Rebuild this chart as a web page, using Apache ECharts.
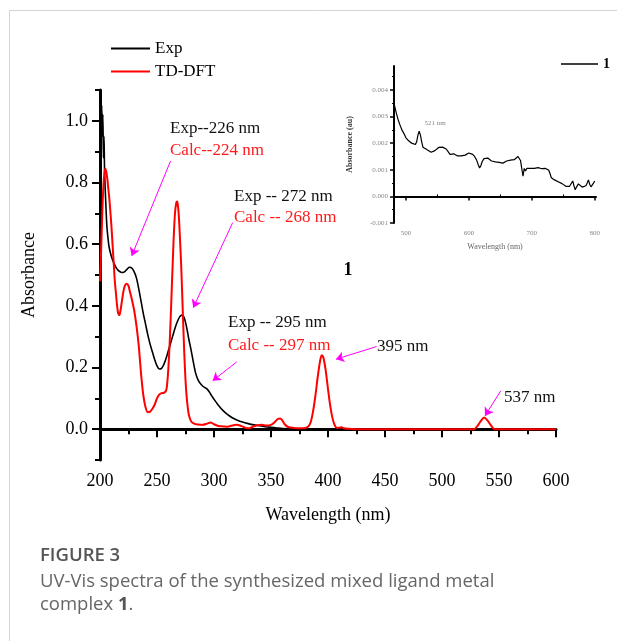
<!DOCTYPE html>
<html>
<head>
<meta charset="utf-8">
<script src="https://cdn.jsdelivr.net/npm/echarts@6/dist/echarts.min.js"></script>
<style>
  html, body { margin: 0; padding: 0; background: #fff; }
  #chart { width: 617px; height: 641px; }
</style>
</head>
<body>
<div id="chart"></div>
<script>
// 实验谱 (black)
const expWl = [200, 200.5, 201, 201.5, 202, 202.5, 203, 203.5, 204, 205, 206, 207, 208, 210, 212, 214, 216, 218, 220, 222, 224, 226, 228, 230, 232, 234, 236, 238, 240, 242, 244, 246, 248, 250, 252, 254, 256, 258, 260, 262, 264, 266, 268, 270, 272, 274, 276, 278, 280, 282, 284, 286, 288, 290, 292, 294, 296, 298, 300, 304, 308, 312, 316, 320, 325, 330, 335, 340, 345, 350, 355, 360, 370, 380, 400, 420, 440, 452, 490, 528, 546];
const expAbs = [0.90, 1.03, 0.92, 1.05, 0.95, 1.02, 0.88, 0.95, 0.84, 0.74, 0.66, 0.62, 0.59, 0.56, 0.54, 0.525, 0.515, 0.51, 0.508, 0.512, 0.52, 0.525, 0.522, 0.51, 0.49, 0.455, 0.415, 0.375, 0.34, 0.305, 0.275, 0.25, 0.225, 0.205, 0.195, 0.197, 0.21, 0.23, 0.255, 0.28, 0.305, 0.33, 0.35, 0.365, 0.37, 0.36, 0.33, 0.29, 0.255, 0.215, 0.18, 0.16, 0.148, 0.14, 0.135, 0.13, 0.12, 0.108, 0.097, 0.077, 0.06, 0.047, 0.037, 0.03, 0.023, 0.018, 0.014, 0.011, 0.008, 0.006, 0.004, 0.002, 0.001, 0, 0, 0, 0, 0, null, 0, 0];

// TD-DFT 计算谱 (red)
const calcWl = [200, 201, 202, 203, 204, 204.7, 205.5, 206.5, 207, 208, 209, 210, 211, 212, 213, 214, 215, 216, 217, 218, 219, 220, 221, 222, 223.5, 225, 226, 228, 230, 232, 234, 236, 238, 240, 242, 244, 246, 248, 250, 252, 254, 256, 258, 259, 260, 261, 262, 263, 264, 265, 266, 267, 267.5, 268, 269, 270, 271, 272, 273, 274, 275, 276, 277, 278, 280, 283, 286, 290, 294, 297, 300, 304, 308, 312, 316, 320, 324, 328, 331, 334, 338, 342, 346, 350, 353, 356, 358, 360, 362, 365, 370, 375, 380, 383, 385, 387, 389, 391, 393, 394.5, 396, 398, 400, 402, 404, 406, 408, 410, 412, 414, 418, 425, 450, 500, 528, 531, 534, 537, 540, 543, 546, 570, 600];
const calcAbs = [0.48, 0.58, 0.70, 0.79, 0.835, 0.845, 0.835, 0.81, 0.79, 0.755, 0.71, 0.66, 0.60, 0.54, 0.48, 0.44, 0.40, 0.375, 0.37, 0.385, 0.41, 0.435, 0.455, 0.467, 0.472, 0.465, 0.45, 0.42, 0.385, 0.335, 0.27, 0.18, 0.11, 0.07, 0.055, 0.057, 0.066, 0.08, 0.10, 0.112, 0.117, 0.118, 0.125, 0.15, 0.20, 0.27, 0.36, 0.46, 0.56, 0.65, 0.71, 0.735, 0.738, 0.735, 0.70, 0.63, 0.55, 0.45, 0.34, 0.24, 0.16, 0.105, 0.07, 0.045, 0.025, 0.017, 0.015, 0.014, 0.018, 0.022, 0.016, 0.010, 0.009, 0.008, 0.012, 0.014, 0.010, 0.004, 0.003, 0.008, 0.013, 0.014, 0.012, 0.014, 0.022, 0.033, 0.035, 0.028, 0.016, 0.007, 0.004, 0.003, 0.004, 0.010, 0.025, 0.06, 0.11, 0.17, 0.22, 0.24, 0.232, 0.19, 0.13, 0.075, 0.035, 0.012, 0.004, 0.005, 0.006, 0.003, 0.001, 0, 0, 0, 0, 0.010, 0.026, 0.038, 0.028, 0.012, 0, 0, 0];

// 插图 (单位 0.001)
const insetWl = [481.5, 483, 485, 488, 491, 494, 497, 500, 503, 506, 509, 512, 515, 517, 519, 521, 523, 525, 527, 530, 533, 536, 540, 543, 546, 549, 552, 555, 558, 561, 564, 567, 570, 573, 576, 579, 582, 585, 588, 591, 594, 597, 600, 603, 606, 609, 612, 615, 617, 619, 621, 624, 627, 630, 633, 636, 639, 642, 645, 648, 651, 654, 657, 660, 663, 666, 669, 672, 675, 678, 680, 682, 684, 686, 688, 690, 692, 695, 698, 701, 704, 707, 710, 713, 716, 719, 722, 725, 727, 729, 731, 733, 736, 739, 742, 745, 748, 751, 754, 757, 760, 763, 765, 767, 769, 771, 774, 777, 780, 783, 786, 788, 790, 792, 794, 796, 798, 800];
const insetAbsMilli = [3.45, 3.3, 3.1, 2.85, 2.65, 2.48, 2.35, 2.2, 2.12, 2.08, 2.0, 1.95, 1.95, 2.05, 2.3, 2.45, 2.3, 2.05, 1.85, 1.78, 1.76, 1.7, 1.66, 1.68, 1.72, 1.78, 1.84, 1.8, 1.85, 1.83, 1.78, 1.68, 1.58, 1.55, 1.6, 1.54, 1.52, 1.47, 1.52, 1.5, 1.55, 1.58, 1.63, 1.62, 1.58, 1.5, 1.38, 1.18, 1.07, 1.15, 1.3, 1.42, 1.46, 1.44, 1.38, 1.33, 1.3, 1.3, 1.26, 1.28, 1.22, 1.25, 1.3, 1.33, 1.38, 1.36, 1.4, 1.38, 1.42, 1.5, 1.48, 1.35, 1.05, 0.76, 1.05, 0.95, 1.05, 1.08, 1.05, 1.08, 1.05, 1.1, 1.08, 1.05, 1.04, 1.0, 1.05, 1.06, 0.98, 0.85, 0.7, 0.65, 0.62, 0.6, 0.55, 0.52, 0.48, 0.42, 0.38, 0.42, 0.38, 0.45, 0.58, 0.4, 0.25, 0.35, 0.47, 0.42, 0.35, 0.42, 0.4, 0.5, 0.62, 0.45, 0.36, 0.42, 0.5, 0.58];

// 刻度
const yMajor = [0, 0.2, 0.4, 0.6, 0.8, 1.0];
const yMinor = [-0.1, 0.1, 0.3, 0.5, 0.7, 0.9, 1.1];
const insetXMajor = [500, 600, 700, 800];
const insetXMinor = [550, 650, 750];
const insetYMajor = [-1, 0, 1, 2, 3, 4];
const insetYMinor = [-0.5, 0.5, 1.5, 2.5, 3.5, 4.5];

// 箭头 [x1, y1, x2, y2] (数据坐标)
const arrows = [
  [261.9, 0.870, 227.8, 0.562],
  [316.4, 0.670, 281.8, 0.394],
  [319.9, 0.218, 298.8, 0.157],
  [442.6, 0.268, 407.0, 0.227],
  [551.5, 0.124, 537.7, 0.043]
];

// 标注文字
const notes = [
  { text: 'Exp--226 nm', x: 170, y: 129, color: '#111' },
  { text: 'Calc--224 nm', x: 170, y: 151, color: '#ff1a1a' },
  { text: 'Exp -- 272 nm', x: 234, y: 197, color: '#111' },
  { text: 'Calc -- 268 nm', x: 234, y: 218, color: '#ff1a1a' },
  { text: 'Exp -- 295 nm', x: 228, y: 323, color: '#111' },
  { text: 'Calc -- 297 nm', x: 228, y: 346, color: '#ff1a1a' },
  { text: '395 nm', x: 377, y: 347, color: '#111' },
  { text: '537 nm', x: 504, y: 398, color: '#111' }
];

const serif = "'Liberation Serif', 'Times New Roman', serif";
const sans = "'Open Sans', 'Noto Sans', sans-serif";

const toPairs = (xs, ys) => xs.map((x, i) => [x, ys[i] === null ? '-' : ys[i]]);

const chart = echarts.init(document.getElementById('chart'), null, { renderer: 'canvas' });

const option = {
  animation: false,
  backgroundColor: '#fff',
  grid: [
    { left: 100, right: 61, top: 90, bottom: 181 },
    { left: 394, right: 21, top: 66, bottom: 418 }
  ],
  legend: [
    {
      data: ['Exp', 'TD-DFT'],
      orient: 'vertical',
      left: 106, top: 35,
      icon: 'rect',
      itemWidth: 39, itemHeight: 2, itemGap: 6,
      textStyle: { fontFamily: serif, fontSize: 17, color: '#000' }
    },
    {
      data: ['1'],
      left: 556, top: 52,
      icon: 'rect',
      itemWidth: 37, itemHeight: 1.5,
      textStyle: { fontFamily: serif, fontSize: 14, fontWeight: 'bold', color: '#000' }
    }
  ],
  xAxis: [
    {
      gridIndex: 0, type: 'value', min: 200, max: 600, interval: 50,
      name: 'Wavelength (nm)', nameLocation: 'middle', nameGap: 46,
      nameTextStyle: { fontFamily: serif, fontSize: 18, color: '#000' },
      axisLine: { lineStyle: { color: '#000', width: 3 } },
      axisTick: { length: 8, lineStyle: { width: 2, color: '#000' } },
      minorTick: { show: true, splitNumber: 2, length: 5, lineStyle: { width: 2, color: '#000' } },
      axisLabel: { fontFamily: serif, fontSize: 18, color: '#000', margin: 12 },
      splitLine: { show: false }
    },
    {
      gridIndex: 1, type: 'value', min: 481, max: 802,
      name: 'Wavelength (nm)', nameLocation: 'middle', nameGap: 20,
      nameTextStyle: { fontFamily: serif, fontSize: 8, color: '#666' },
      axisLine: { lineStyle: { color: '#000', width: 2 } },
      axisTick: { customValues: insetXMajor, length: 4, lineStyle: { width: 1.5, color: '#000' } },
      axisLabel: { customValues: insetXMajor, fontFamily: serif, fontSize: 7, color: '#888', margin: 7 },
      splitLine: { show: false }
    },
    {
      gridIndex: 1, type: 'value', min: 481, max: 802,
      axisLine: { show: false },
      axisTick: { customValues: insetXMinor, length: 2, lineStyle: { width: 1, color: '#000' } },
      axisLabel: { show: false },
      splitLine: { show: false }
    }
  ],
  yAxis: [
    {
      gridIndex: 0, type: 'value', min: -0.1, max: 1.1,
      name: 'Absorbance', nameLocation: 'middle', nameGap: 62,
      nameTextStyle: { fontFamily: serif, fontSize: 18, color: '#000' },
      axisLine: { show: true, lineStyle: { color: '#000', width: 3 } },
      axisTick: { show: true, customValues: yMajor, length: 8, lineStyle: { width: 2, color: '#000' } },
      axisLabel: { customValues: yMajor, formatter: v => v.toFixed(1), fontFamily: serif, fontSize: 18, color: '#000', margin: 12 },
      splitLine: { show: false }
    },
    {
      gridIndex: 0, type: 'value', min: -0.1, max: 1.1, position: 'left',
      axisLine: { show: false },
      axisTick: { show: true, customValues: yMinor, length: 5, lineStyle: { width: 2, color: '#000' } },
      axisLabel: { show: false },
      splitLine: { show: false }
    },
    {
      gridIndex: 1, type: 'value', min: -1, max: 4.9,
      name: 'Absorbance (au)', nameLocation: 'middle', nameGap: 40,
      nameTextStyle: { fontFamily: serif, fontSize: 8, fontWeight: 'bold', color: '#333' },
      axisLine: { show: true, lineStyle: { color: '#000', width: 2 } },
      axisTick: { show: true, customValues: insetYMajor, length: 4, lineStyle: { width: 1.5, color: '#000' } },
      axisLabel: { customValues: insetYMajor, formatter: v => (v / 1000).toFixed(3), fontFamily: serif, fontSize: 7, color: '#888', margin: 6 },
      splitLine: { show: false }
    },
    {
      gridIndex: 1, type: 'value', min: -1, max: 4.9, position: 'left',
      axisLine: { show: false },
      axisTick: { show: true, customValues: insetYMinor, length: 2, lineStyle: { width: 1, color: '#000' } },
      axisLabel: { show: false },
      splitLine: { show: false }
    }
  ],
  series: [
    {
      name: 'Exp', type: 'line', xAxisIndex: 0, yAxisIndex: 0,
      data: toPairs(expWl, expAbs),
      symbol: 'none', smooth: 0.3, connectNulls: false,
      lineStyle: { color: '#000', width: 1.6 },
      itemStyle: { color: '#000' },
      z: 3
    },
    {
      name: 'TD-DFT', type: 'line', xAxisIndex: 0, yAxisIndex: 0,
      data: toPairs(calcWl, calcAbs),
      symbol: 'none', smooth: 0.3,
      lineStyle: { color: '#ff0000', width: 2 },
      itemStyle: { color: '#ff0000' },
      z: 4,
      markLine: {
        silent: true,
        symbol: ['none', 'arrow'],
        symbolSize: 8,
        label: { show: false },
        lineStyle: { color: '#ff00ff', width: 1, type: 'solid' },
        data: arrows.map(a => [{ coord: [a[0], a[1]] }, { coord: [a[2], a[3]] }])
      }
    },
    {
      name: '1', type: 'line', xAxisIndex: 1, yAxisIndex: 2,
      data: toPairs(insetWl, insetAbsMilli),
      symbol: 'none',
      lineStyle: { color: '#000', width: 1.2 },
      itemStyle: { color: '#000' }
    }
  ],
  graphic: [
    // 外框
    { type: 'line', shape: { x1: 9.5, y1: 10.5, x2: 617, y2: 10.5 }, style: { stroke: '#d4d4d4', lineWidth: 1 } },
    { type: 'line', shape: { x1: 9.5, y1: 10.5, x2: 9.5, y2: 641 }, style: { stroke: '#d4d4d4', lineWidth: 1 } },
    ...notes.map(n => ({
      type: 'text', x: n.x, y: n.y,
      style: { text: n.text, fill: n.color, font: '17px ' + serif, textAlign: 'left', textVerticalAlign: 'middle' }
    })),
    { type: 'text', x: 348, y: 270, style: { text: '1', fill: '#000', font: 'bold 18px ' + serif, textAlign: 'center', textVerticalAlign: 'middle' } },
    { type: 'text', x: 435, y: 123, style: { text: '521 nm', fill: '#888', font: '7px ' + serif, textAlign: 'center', textVerticalAlign: 'middle' } },
    // 图注
    { type: 'text', x: 40, y: 556, style: { text: 'FIGURE 3', fill: '#555', font: '600 18.5px ' + sans, textAlign: 'left', textVerticalAlign: 'middle' } },
    { type: 'text', x: 40, y: 582, style: { text: 'UV-Vis spectra of the synthesized mixed ligand metal', fill: '#666', font: '18.5px ' + sans, textAlign: 'left', textVerticalAlign: 'middle' } },
    {
      type: 'text', x: 40, y: 605,
      style: {
        text: 'complex {b|1}.', fill: '#666', font: '18.5px ' + sans, textAlign: 'left', textVerticalAlign: 'middle',
        rich: { b: { fontWeight: 'bold', fontFamily: sans, fontSize: 18.5, fill: '#555' } }
      }
    }
  ]
};

chart.setOption(option);
</script>
</body>
</html>
